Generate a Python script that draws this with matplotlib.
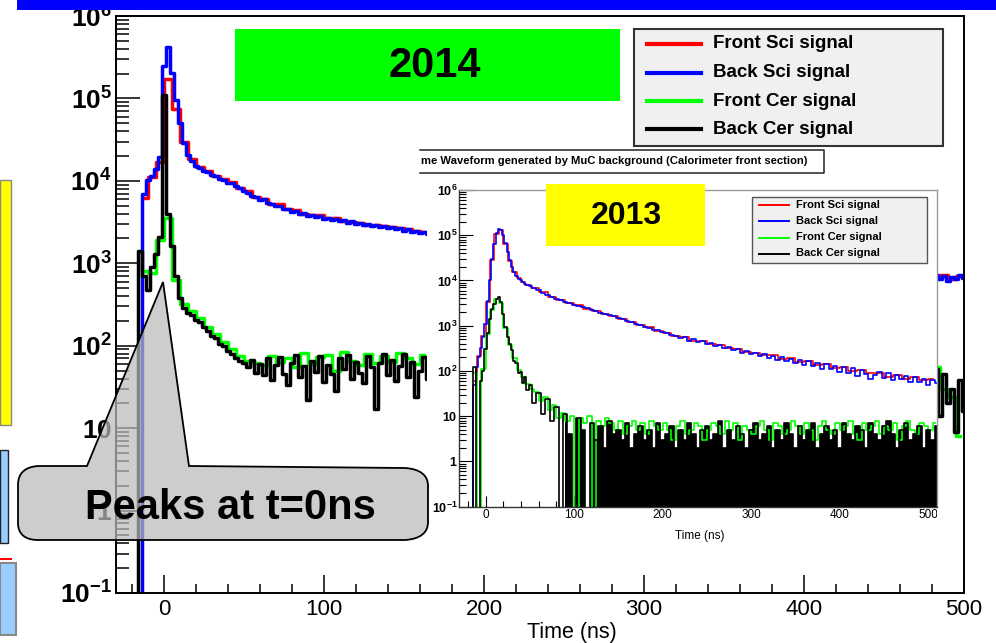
import numpy as np
import matplotlib
matplotlib.use("Agg")
import matplotlib.pyplot as plt
from matplotlib.patches import Rectangle, PathPatch
from matplotlib.path import Path
from matplotlib.lines import Line2D
from matplotlib.transforms import Affine2D
from matplotlib.ticker import FixedLocator, FixedFormatter, LogLocator, NullFormatter, MultipleLocator

plt.rcParams["font.family"] = ["Liberation Sans", "DejaVu Sans"]
plt.rcParams["mathtext.fontset"] = "custom"
plt.rcParams["mathtext.rm"] = "Liberation Sans"
plt.rcParams["mathtext.bf"] = "Liberation Sans:bold"
plt.rcParams["mathtext.it"] = "Liberation Sans:italic"

W, H = 996, 643

signal_names = ["Front Sci signal", "Back Sci signal", "Front Cer signal", "Back Cer signal"]
signal_colors = ["#ff0000", "#0000ff", "#00ff00", "#000000"]

# ---- 2014 (main plot), counts per bin; the middle part is hidden behind the 2013 picture
t14_fine = np.arange(-17.5, 165.1, 2.5)
t14_coarse = np.arange(-12.5, 165.0, 5.0)
t14_end_fine = np.arange(482.5, 500.1, 2.5)
t14_end_coarse = np.arange(482.5, 500.0, 5.0)

back_sci_14 = [0, 0, 7000, 10200, 11500, 14000, 19500,
               250000, 420000, 205000, 96000, 51000, 28500, 20500,
               17600, 15000, 14300, 13000, 12800, 11800, 11400, 10500, 10200, 9400,
               9300, 8600, 8300, 7500, 7200, 6500, 6400, 5900, 5950, 5400,
               5300, 4900, 5000, 4550, 4500, 4200, 4300, 3950, 4050, 3750,
               3880, 3600, 3720, 3480, 3540, 3350, 3460, 3230, 3320, 3100,
               3230, 3020, 3110, 2930, 2960, 2820, 2930, 2720, 2820, 2650,
               2740, 2580, 2660, 2480, 2570, 2420, 2470, 2330, 2400, 2260]
front_sci_14 = [6200, 11200, 17000, 170000, 74000, 29500, 18300, 14600, 13300, 11600,
                10500, 9600, 8300, 7500, 6300, 6000, 5300, 5200, 4600, 4450,
                4000, 3850, 3800, 3500, 3500, 3300, 3150, 3100, 2950, 2900,
                2850, 2750, 2650, 2600, 2480, 2420]
back_cer_14 = [0, 1400, 700, 480, 900, 1300, 2100,
               110000, 4000, 1600, 700, 380, 290, 250,
               235, 205, 195, 168, 150, 132, 124, 106, 98, 86,
               80, 71, 66, 62, 55, 68, 47, 60, 44, 71,
               38, 58, 73, 46, 33, 62, 78, 42, 57, 22,
               66, 48, 75, 36, 59, 45, 28, 70, 52, 77,
               40, 63, 47, 35, 74, 55, 17, 61, 80, 44,
               68, 37, 56, 79, 42, 64, 24, 50, 72, 39]
front_cer_14 = [800, 760, 1900, 3500, 620, 320, 262, 218, 168, 138,
                112, 92, 74, 66, 62, 58, 75, 64, 70, 55,
                82, 60, 72, 78, 50, 84, 66, 58, 79, 62,
                76, 64, 82, 70, 60, 77]
back_sci_14_end = [720, 650, 700, 610, 690, 650, 720, 660]
front_sci_14_end = [700, 730, 640, 700]
back_cer_14_end = [52, 14, 45, 20, 30, 9, 38, 16]
front_cer_14_end = [55, 30, 24, 8]

# ---- 2013 (inset picture)
t13 = np.concatenate([np.arange(-15, 48, 2.5), np.arange(50, 511, 5)])
t13_front_sci = np.concatenate([np.arange(-12.5, 48, 5), np.arange(55, 506, 10)])
t13_front_cer = np.arange(-12.5, 508, 5)

back_sci_13 = [0, 50, 120, 200, 330, 560, 1100, 3500, 10000, 30000,
               65000, 110000, 140000, 133000, 100000, 66000, 42000, 28000, 20000, 15200,
               12500, 11000, 10000, 9300, 8500, 8000,
               7500, 6800, 6050, 5400, 4800, 4300, 3880, 3650, 3370, 3180,
               2940, 2770, 2560, 2420, 2230, 2100, 1950, 1830, 1700, 1600,
               1460, 1400, 1270, 1190, 1100, 1040, 940, 905, 820, 795,
               720, 680, 625, 590, 545, 552, 470, 500, 432, 450,
               398, 415, 352, 372, 318, 340, 290, 312, 255, 280,
               232, 255, 210, 238, 196, 212, 178, 202, 165, 188,
               150, 176, 138, 162, 128, 150, 112, 140, 108, 128,
               96, 125, 92, 114, 78, 104, 86, 68, 80, 94,
               70, 88, 62, 82, 66, 76, 56, 74, 58, 68, 50, 64, 55]
front_sci_13 = [60, 210, 600, 3300, 29000, 105000, 130000, 64000, 27000, 15500,
                11200, 9400, 8100,
                6900, 5500, 4250, 3700, 3150, 2820, 2380, 2160, 1800, 1650,
                1380, 1230, 1030, 935, 780, 705, 590, 560, 470, 455,
                390, 370, 330, 310, 258, 252, 222, 220, 185, 190,
                160, 162, 135, 140, 115, 120, 100, 104, 88, 92,
                75, 82, 68, 74, 62, 66]
back_cer_13 = [0, 120, 0, 0, 60, 100, 300, 700, 1400, 2300,
               3000, 3800, 4300, 3300, 1800, 950, 560, 400, 290, 170,
               150, 90, 95, 55, 72, 38,
               48, 20, 33, 11, 24, 8, 16, 0, 11, 4,
               0, 9, 5, 0, 7, 3, 6, 2, 8, 4,
               5, 3, 7, 2, 4, 6, 3, 5, 2, 7,
               3, 4, 6, 2, 5, 3, 7, 4, 2, 5,
               6, 3, 4, 8, 2, 5, 3, 6, 4, 2,
               5, 7, 3, 4, 6, 2, 5, 3, 7, 4,
               2, 6, 3, 5, 7, 2, 4, 6, 3, 5,
               2, 7, 4, 3, 6, 5, 2, 7, 4, 3,
               6, 8, 4, 2, 5, 7, 3, 4, 6, 2, 5, 3, 6]
front_cer_13 = [90, 0, 110, 650, 2200, 3900, 3200, 900, 380, 190,
                105, 75, 52,
                40, 34, 22, 26, 14, 18, 9, 12, 8, 10,
                0, 9, 7, 10, 0, 8, 6, 9, 7, 5,
                8, 4, 6, 8, 5, 7, 4, 8, 6, 5,
                7, 5, 3, 6, 8, 4, 5, 7, 6, 3,
                5, 7, 6, 4, 8, 5, 7, 3, 6, 5,
                4, 6, 8, 5, 3, 7, 6, 4, 5, 8,
                6, 4, 7, 5, 3, 6, 8, 5, 4, 7,
                5, 6, 8, 4, 3, 7, 5, 6, 8, 4,
                6, 5, 7, 3, 6, 8, 5, 4, 7, 6,
                5, 7]

decades = [0.1, 1, 10, 100, 1e3, 1e4, 1e5, 1e6]
decade_labels = [r"$\mathbf{10^{-1}}$", r"$\mathbf{1}$", r"$\mathbf{10}$", r"$\mathbf{10^{2}}$",
                 r"$\mathbf{10^{3}}$", r"$\mathbf{10^{4}}$", r"$\mathbf{10^{5}}$", r"$\mathbf{10^{6}}$"]
time_ticks = [0, 100, 200, 300, 400, 500]
time_labels = ["0", "100", "200", "300", "400", "500"]

fig = plt.figure(figsize=(W / 100, H / 100), dpi=100)
# pixel coordinates measured from the top-left corner of the slide
pix = Affine2D().scale(1 / W, -1 / H).translate(0, 1) + fig.transFigure


def rect(px0, py0, px1, py1):
    return [px0 / W, 1 - py1 / H, (px1 - px0) / W, (py1 - py0) / H]


def style_log_axes(a, xmax, maj_y, min_y, maj_x, min_x, ysize, xsize, lw, ypad, xpad):
    a.set_yscale("log", nonpositive="clip")
    a.set_xlim(-30, xmax)
    a.set_ylim(0.1, 1e6)
    a.yaxis.set_major_locator(FixedLocator(decades))
    a.yaxis.set_major_formatter(FixedFormatter(decade_labels))
    a.yaxis.set_minor_locator(LogLocator(base=10, subs=np.arange(2, 10), numticks=30))
    a.yaxis.set_minor_formatter(NullFormatter())
    a.xaxis.set_major_locator(FixedLocator(time_ticks))
    a.xaxis.set_major_formatter(FixedFormatter(time_labels))
    a.xaxis.set_minor_locator(MultipleLocator(20))
    a.tick_params(axis="y", which="major", direction="in", length=maj_y, width=lw, labelsize=ysize, pad=ypad)
    a.tick_params(axis="y", which="minor", direction="in", length=min_y, width=lw)
    a.tick_params(axis="x", which="major", direction="in", length=maj_x, width=lw, labelsize=xsize, pad=xpad)
    a.tick_params(axis="x", which="minor", direction="in", length=min_x, width=lw)
    a.tick_params(top=False, right=False)


# ---------------- main 2014 plot
ax = fig.add_axes(rect(116, 16, 964, 593))
style_log_axes(ax, 500, 17.5, 9.5, 13, 6.5, 19, 16, 1.1, 3, 4)
for s in ax.spines.values():
    s.set_linewidth(1.4)
main_sets = [
    (t14_coarse, front_sci_14, t14_end_coarse, front_sci_14_end, 0),
    (t14_fine, back_sci_14, t14_end_fine, back_sci_14_end, 1),
    (t14_coarse, front_cer_14, t14_end_coarse, front_cer_14_end, 2),
    (t14_fine, back_cer_14, t14_end_fine, back_cer_14_end, 3),
]
for ta, va, tb, vb, k in main_sets:
    ax.plot(ta, va, drawstyle="steps-mid", color=signal_colors[k], lw=2.5)
    ax.plot(tb, vb, drawstyle="steps-mid", color=signal_colors[k], lw=2.5)
ax.set_xlabel("Time (ns)", fontsize=15.5)
ax.xaxis.set_label_coords(0.538, -0.05)

# ---------------- pasted 2013 picture
fig.add_artist(Rectangle((427, 147), 510, 401, transform=pix, facecolor="white", edgecolor="none", zorder=1))
ax_in = fig.add_axes(rect(459, 190, 937, 506.7), zorder=2)
style_log_axes(ax_in, 510, 10, 5, 8, 4.5, 9, 8.5, 0.8, 1, 2)
for name, s in ax_in.spines.items():
    s.set_linewidth(1.0)
    s.set_color("#333333" if name in ("left", "bottom") else "#999999")
ax_in.plot(t13_front_sci, front_sci_13, drawstyle="steps-mid", color=signal_colors[0], lw=1.2)
ax_in.plot(t13, back_sci_13, drawstyle="steps-mid", color=signal_colors[1], lw=1.2)
ax_in.plot(t13_front_cer, front_cer_13, drawstyle="steps-mid", color=signal_colors[2], lw=1.2)
ax_in.plot(t13, back_cer_13, drawstyle="steps-mid", color=signal_colors[3], lw=1.2)
# the dense noise of the back Cer tail reads as a solid black mass down to the axis
cer_tail = np.array(back_cer_13, dtype=float)
ax_in.fill_between(t13, 0.05, np.where(cer_tail > 0, cer_tail, 0.05), where=t13 >= 87.5,
                   step="mid", color="black", lw=0)
ax_in.set_xlabel("Time (ns)", fontsize=8.5)
ax_in.xaxis.set_label_coords(0.504, -0.075)
crop = Rectangle((0, 0), 937 / W, 1, transform=fig.transFigure)
for lab in ax_in.get_xticklabels():
    lab.set_clip_path(crop)

# title box of the pasted picture (its left side is cut off)
fig.add_artist(Rectangle((420, 150), 404, 23, transform=pix, facecolor="white", edgecolor="none", zorder=3))
fig.add_artist(Line2D([420, 824, 824, 420], [150, 150, 173, 173], transform=pix, color="#222222", lw=1.1, zorder=3))
fig.text(421, 161.5, "me Waveform generated by MuC background (Calorimeter front section)", transform=pix,
         ha="left", va="center", fontsize=8.1, fontweight="bold", zorder=4)

# inset legend
fig.add_artist(Rectangle((752, 197), 175, 66, transform=pix, facecolor="#f0f0f0", edgecolor="#555555", lw=1, zorder=3))
for k, yy in enumerate([205, 221, 237.5, 253.5]):
    fig.add_artist(Line2D([759, 789], [yy, yy], transform=pix, color=signal_colors[k], lw=1.4, zorder=4))
    fig.text(796, yy, signal_names[k], transform=pix, ha="left", va="center", fontsize=8, fontweight="bold", zorder=4)

# year labels
fig.add_artist(Rectangle((546, 184), 159, 62, transform=pix, facecolor="#ffff00", edgecolor="none", zorder=3))
fig.text(626, 216, "2013", transform=pix, ha="center", va="center", fontsize=23, fontweight="bold", zorder=4)
fig.add_artist(Rectangle((235, 29), 385, 72, transform=pix, facecolor="#00ff00", edgecolor="none", zorder=3))
fig.text(435, 66, "2014", transform=pix, ha="center", va="center", fontsize=30, fontweight="bold", zorder=4)

# main legend
fig.add_artist(Rectangle((634, 29), 309, 117, transform=pix, facecolor="#f0f0f0", edgecolor="#333333", lw=1.5, zorder=3))
for k, yy in enumerate([44, 72.7, 101, 129.3]):
    fig.add_artist(Line2D([647, 701], [yy, yy], transform=pix, color=signal_colors[k], lw=3, zorder=4))
    fig.text(713, yy, signal_names[k], transform=pix, ha="left", va="center", fontsize=13.5, fontweight="bold", zorder=4)

# callout
verts = [(87, 466), (163, 282), (189, 466), (405, 468),
         (420, 469), (428, 475), (428, 486),
         (428, 522),
         (428, 533), (420, 539), (405, 540),
         (38, 540),
         (25, 540), (18, 534), (18, 523),
         (18, 485),
         (18, 473), (25, 467), (38, 466),
         (87, 466)]
codes = [Path.MOVETO, Path.LINETO, Path.LINETO, Path.LINETO,
         Path.CURVE4, Path.CURVE4, Path.CURVE4,
         Path.LINETO,
         Path.CURVE4, Path.CURVE4, Path.CURVE4,
         Path.LINETO,
         Path.CURVE4, Path.CURVE4, Path.CURVE4,
         Path.LINETO,
         Path.CURVE4, Path.CURVE4, Path.CURVE4,
         Path.CLOSEPOLY]
fig.add_artist(PathPatch(Path(verts, codes), transform=pix, facecolor=(0.73, 0.73, 0.73, 0.72),
                         edgecolor="black", lw=1.3, zorder=5))
fig.text(230, 508, "Peaks at t=0ns", transform=pix, ha="center", va="center", fontsize=30, fontweight="bold", zorder=6)

# slide leftovers at the left edge and the title bar
fig.add_artist(Rectangle((0, 180), 11, 245, transform=pix, facecolor="#ffff00", edgecolor="#888888", lw=1, zorder=3))
fig.add_artist(Rectangle((0, 450), 7.5, 93, transform=pix, facecolor="#99ccff", edgecolor="#222222", lw=1, zorder=3))
fig.add_artist(Line2D([0, 11], [559, 559], transform=pix, color="#ff0000", lw=1.5, zorder=3))
fig.add_artist(Rectangle((0, 563), 15.5, 72, transform=pix, facecolor="#99ccff", edgecolor="#888888", lw=1.5, zorder=3))
fig.add_artist(Rectangle((17, 0), 979, 10, transform=pix, facecolor="#0000ff", edgecolor="none", zorder=10))

fig.savefig("out.png", dpi=100)
